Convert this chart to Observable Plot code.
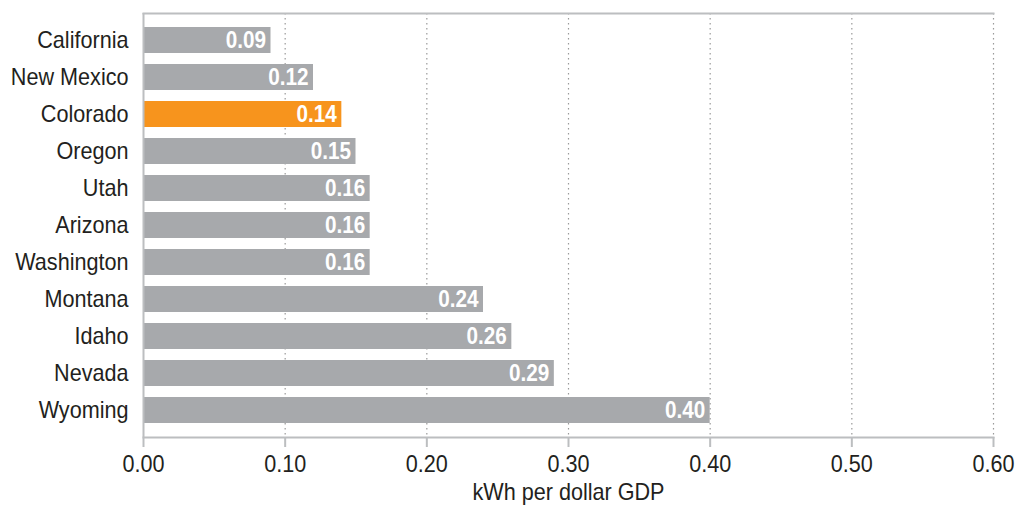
<!DOCTYPE html>
<html>
<head>
<meta charset="utf-8">
<script src="https://cdn.jsdelivr.net/npm/d3@7"></script>
<script src="https://cdn.jsdelivr.net/npm/@observablehq/plot@0.6"></script>
<style>
  html, body { margin: 0; padding: 0; background: #fff; }
  svg { font-family: "Liberation Sans", Arial, sans-serif; }
</style>
</head>
<body>
<div id="chart"></div>
<script>
const states = ["California","New Mexico","Colorado","Oregon","Utah","Arizona","Washington","Montana","Idaho","Nevada","Wyoming"];
const values = [0.09,0.12,0.14,0.15,0.16,0.16,0.16,0.24,0.26,0.29,0.40];
const highlight = "Colorado";
const xTicks = [0,0.1,0.2,0.3,0.4,0.5,0.6];
const xLabel = "kWh per dollar GDP";

const data = states.map((s,i) => ({state: s, value: values[i]}));

const chart = Plot.plot({
  width: 1017,
  height: 506,
  marginLeft: 143,
  marginRight: 24,
  marginTop: 13,
  marginBottom: 69,
  style: {fontSize: "24px", color: "#231f20", background: "#fff"},
  x: {domain: [0, 0.6]},
  y: {domain: states, paddingInner: 0.3, paddingOuter: 0.37},
  marks: [
    Plot.gridX(xTicks.slice(1), {stroke: "#9a9a9a", strokeOpacity: 1, strokeWidth: 1.2, strokeDasharray: "1.5,3.5"}),
    Plot.barX(data, {y: "state", x: "value", fill: d => d.state === highlight ? "#f7941d" : "#a7a9ac"}),
    Plot.text(data, {y: "state", x: "value", text: d => d.value.toFixed(2), textAnchor: "end", dx: -5, fill: "white", fontWeight: "bold", fontSize: 23}),
    Plot.frame({anchor: "top", stroke: "#bcbec0", strokeWidth: 2}),
    Plot.frame({anchor: "bottom", stroke: "#bcbec0", strokeWidth: 2}),
    Plot.ruleX([0], {stroke: "#bcbec0", strokeWidth: 2}),
    Plot.axisX(xTicks, {tickFormat: d3.format(".2f"), tickSize: 10, tickPadding: 7, stroke: "#bcbec0", strokeWidth: 2, fontSize: 24, label: xLabel, labelAnchor: "center", labelArrow: "none", labelOffset: 62}),
    Plot.axisY({tickSize: 0, tickPadding: 15, fontSize: 24, label: null})
  ]
});
document.getElementById("chart").appendChild(chart);
// condense glyphs to mimic the reference's narrow typeface
chart.querySelectorAll("text").forEach(t => {
  const w = t.getComputedTextLength();
  if (w > 0) {
    t.setAttribute("textLength", (w * 0.9).toFixed(2));
    t.setAttribute("lengthAdjust", "spacingAndGlyphs");
  }
});
</script>
</body>
</html>
